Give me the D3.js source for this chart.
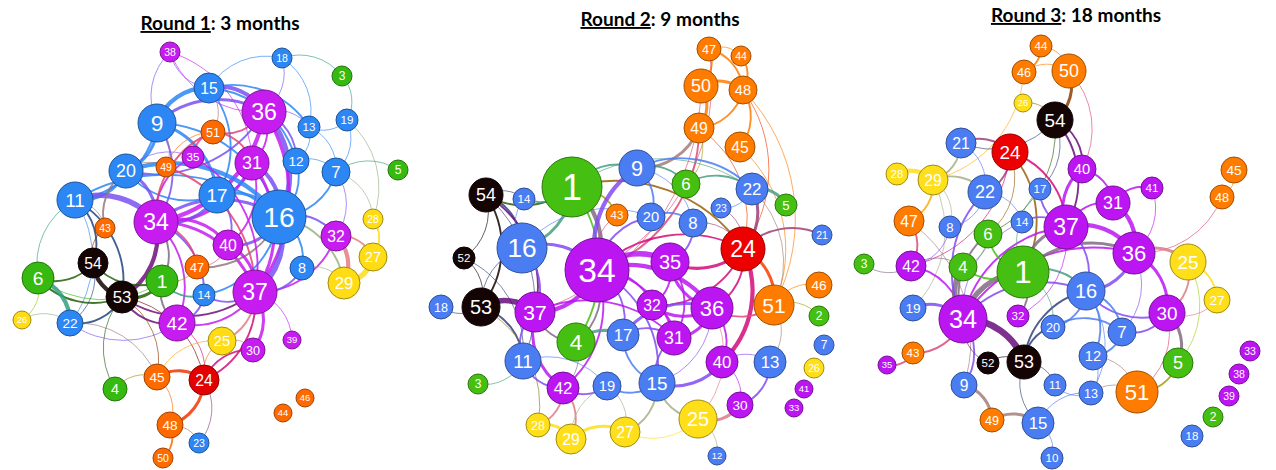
<!DOCTYPE html>
<html>
<head>
<meta charset="utf-8">
<script src="https://cdn.jsdelivr.net/npm/d3@7"></script>
<style>
  html, body { margin: 0; padding: 0; background: #fff; }
  svg { display: block; }
</style>
</head>
<body>
<svg id="chart" width="1276" height="470"></svg>
<script>
// ---- Collaboration networks at three survey rounds ----
// Node rows: [id, layoutX, layoutY, size, community]
// Edge rows: [source, target, weight]

const roundTitles = ["Round 1", "Round 2", "Round 3"];
const roundPeriods = [": 3 months", ": 9 months", ": 18 months"];

const nodesRound1 = [
  [38,170,52,10,"P"],[15,209,88,15,"B"],[9,157,123,19,"B"],[51,213,132,12,"O"],[35,193,157,11,"P"],
  [49,166,167,10,"O"],[20,126,171,17,"B"],[11,75,200,18,"B"],[43,105,228,10,"O"],[34,156,222,22,"P"],
  [18,282,58,10,"B"],[3,342,76,10,"G"],[36,264,112,22,"P"],[13,309,127,11,"B"],[19,347,120,11,"B"],
  [12,296,161,13,"B"],[31,252,163,17,"P"],[7,336,172,14,"B"],[5,398,170,10,"G"],[17,217,195,18,"B"],
  [16,279,217,27,"B"],[28,373,219,10,"Y"],[32,336,236,15,"P"],[40,228,245,15,"P"],[27,373,257,14,"Y"],
  [8,302,268,12,"B"],[29,344,283,16,"Y"],[37,255,292,22,"P"],[14,204,295,11,"B"],[25,222,341,14,"Y"],
  [30,253,350,12,"P"],[39,292,340,9,"P"],[24,204,380,15,"R"],[46,305,398,9,"O"],[44,283,413,9,"O"],
  [6,38,278,16,"G"],[54,93,263,15,"K"],[53,122,297,16,"K"],[1,162,281,16,"G"],[47,197,267,12,"O"],
  [42,177,323,18,"P"],[26,22,320,9,"Y"],[22,70,323,13,"B"],[45,157,377,13,"O"],[4,115,389,12,"G"],
  [48,170,425,13,"O"],[23,199,443,10,"B"],[50,163,458,10,"O"]
];

const edgesRound1 = [
  [9,15,4],[9,17,3],[9,16,2],[9,20,3],[9,34,2],[9,36,3],[9,11,2],[9,38,1],[15,36,4],[15,38,1],
  [15,18,1],[15,13,2],[15,51,1],[15,17,2],[15,12,2],[18,3,1],[18,36,1],[18,13,1],[3,19,1],[19,13,1],
  [19,7,1],[19,28,1],[36,38,1],[36,34,4],[36,16,5],[36,31,2],[36,12,2],[36,51,2],[36,37,3],[36,13,1],
  [36,20,2],[13,12,1],[13,7,1],[12,16,2],[12,7,1],[7,5,1],[7,28,1],[7,16,2],[7,32,1],[31,16,4],
  [31,17,2],[31,34,3],[31,40,2],[31,37,3],[17,34,3],[17,16,3],[17,40,2],[17,20,2],[20,16,4],[20,11,3],
  [20,34,3],[20,35,1],[20,49,1],[11,34,5],[11,16,2],[11,54,2],[11,43,1],[11,22,1],[11,53,2],[34,35,2],
  [34,51,2],[34,40,3],[34,16,3],[34,37,3],[34,53,4],[34,1,2],[34,42,2],[34,14,2],[34,47,2],[35,51,2],
  [49,51,1],[49,37,2],[16,37,5],[16,40,3],[16,8,2],[16,32,2],[16,47,2],[16,14,2],[16,29,2],[40,37,3],
  [40,47,1],[32,29,4],[32,37,2],[32,27,2],[28,27,2],[27,29,5],[8,37,2],[8,29,1],[37,42,2],[37,14,2],
  [37,30,3],[37,39,1],[37,24,2],[37,25,2],[37,53,2],[14,42,2],[14,1,2],[42,1,2],[42,22,1],[42,53,2],
  [42,24,1],[1,53,3],[1,54,2],[1,6,1],[53,54,4],[53,22,2],[53,6,2],[53,45,1],[53,24,1],[54,6,2],
  [54,22,1],[54,43,1],[6,22,4],[6,26,1],[26,22,1],[6,11,1],[22,45,1],[4,45,1],[4,53,1],[45,24,3],
  [45,48,1],[45,25,1],[24,48,3],[24,30,2],[24,25,1],[24,23,1],[48,50,2],[48,23,1],[25,30,1],[43,20,2],
  [9,49,1],[38,31,1],[51,31,2],[35,37,2],[47,1,1]
];

const nodesRound2 = [
  [47,289,49,12,"O"],[44,321,56,10,"O"],[50,281,86,17,"O"],[48,323,90,14,"O"],[49,279,128,15,"O"],
  [45,320,147,15,"O"],[9,217,168,18,"B"],[6,266,184,14,"G"],[22,332,189,16,"B"],[5,366,205,11,"G"],
  [23,301,208,10,"B"],[20,231,217,14,"B"],[8,273,223,14,"B"],[21,402,235,10,"B"],[54,66,195,17,"K"],
  [14,104,199,11,"B"],[1,152,187,30,"G"],[43,197,215,11,"O"],[16,102,248,25,"B"],[52,44,258,11,"K"],
  [34,177,270,32,"P"],[53,61,307,19,"K"],[18,21,307,12,"B"],[37,115,312,20,"P"],[4,156,342,19,"G"],
  [17,203,335,16,"B"],[11,103,361,18,"B"],[3,58,384,10,"G"],[42,143,388,16,"P"],[19,187,386,14,"B"],
  [28,118,425,12,"Y"],[29,151,439,15,"Y"],[27,205,432,15,"Y"],[24,323,249,22,"R"],[35,250,262,19,"P"],
  [46,399,285,13,"O"],[32,232,305,15,"P"],[51,354,305,20,"O"],[36,292,308,21,"P"],[2,399,316,10,"G"],
  [31,254,338,17,"P"],[7,404,345,10,"B"],[40,302,362,16,"P"],[13,350,362,16,"B"],[26,394,368,10,"Y"],
  [15,237,383,18,"B"],[41,384,389,9,"P"],[33,374,408,9,"P"],[30,320,405,13,"P"],[25,278,419,19,"Y"],
  [12,297,456,9,"B"]
];

const edgesRound2 = [
  [47,50,2],[47,48,2],[47,44,1],[44,48,2],[50,48,3],[50,49,3],[48,49,2],[48,45,2],[48,24,1],[48,51,1],
  [45,51,1],[49,9,3],[49,34,2],[49,24,1],[47,34,1],[50,37,1],[49,6,1],[1,16,3],[1,34,4],[1,54,2],
  [1,14,2],[1,9,2],[1,43,2],[1,4,2],[1,22,1],[1,24,2],[54,16,2],[54,14,1],[54,52,1],[54,53,2],
  [54,11,1],[54,37,2],[52,53,1],[52,11,1],[53,37,5],[53,18,1],[53,11,2],[53,28,1],[53,16,1],[16,34,3],
  [16,37,2],[16,14,1],[16,20,1],[34,35,5],[34,36,4],[34,37,4],[34,32,2],[34,31,2],[34,4,2],[34,17,2],
  [34,9,4],[34,20,2],[34,24,2],[34,15,2],[34,42,2],[34,43,1],[9,20,2],[9,6,2],[9,22,2],[9,8,1],
  [6,22,2],[22,5,3],[22,24,3],[22,23,1],[22,51,1],[24,21,2],[24,51,3],[24,40,4],[24,36,2],[24,35,3],
  [24,32,2],[51,46,1],[51,2,1],[51,13,1],[51,36,2],[36,32,3],[36,31,3],[36,40,2],[36,35,3],[36,15,1],
  [36,25,1],[40,30,1],[40,15,3],[40,13,1],[13,30,2],[30,25,3],[25,15,2],[25,12,1],[25,27,1],[15,17,2],
  [15,31,2],[15,19,2],[15,27,2],[19,42,2],[42,37,3],[42,11,2],[42,28,2],[42,29,2],[28,29,3],[29,27,3],
  [11,3,1],[11,37,2],[4,37,2],[4,17,3],[4,42,1],[17,36,3],[17,31,2],[20,8,2],[8,35,2],[35,31,2],
  [32,31,2],[19,27,1],[29,19,1],[11,19,1],[37,31,2],[35,32,2],[8,24,1],[23,24,1]
];

const nodesRound3 = [
  [44,201,46,11,"O"],[46,184,72,12,"O"],[50,229,71,17,"O"],[26,183,103,9,"Y"],[54,215,120,18,"K"],
  [21,121,143,15,"B"],[24,170,152,18,"R"],[28,57,174,11,"Y"],[29,93,180,15,"Y"],[22,145,192,17,"B"],
  [17,200,189,11,"B"],[47,69,221,15,"O"],[8,110,227,11,"B"],[14,182,222,11,"B"],[6,148,234,14,"G"],
  [40,242,169,14,"P"],[41,312,188,11,"P"],[45,394,170,13,"O"],[48,382,197,12,"O"],[31,273,203,17,"P"],
  [37,226,227,22,"P"],[3,24,264,10,"G"],[42,71,266,15,"P"],[4,123,267,14,"G"],[1,183,272,26,"G"],
  [19,73,308,13,"B"],[34,123,319,24,"P"],[32,178,316,11,"P"],[20,213,327,12,"B"],[43,73,353,11,"O"],
  [35,47,365,9,"P"],[52,148,363,11,"K"],[53,184,362,17,"K"],[9,124,385,13,"B"],[11,215,385,11,"B"],
  [49,152,420,12,"O"],[15,198,423,16,"B"],[10,212,458,11,"B"],[36,294,253,21,"P"],[25,348,262,18,"Y"],
  [27,377,300,13,"Y"],[16,246,291,19,"B"],[30,327,313,18,"P"],[7,282,332,14,"B"],[12,253,356,14,"B"],
  [5,338,363,15,"G"],[33,410,351,10,"P"],[38,399,374,10,"P"],[13,251,393,12,"B"],[51,297,392,21,"O"],
  [39,389,396,10,"P"],[2,373,417,10,"G"],[18,352,436,11,"B"]
];

const edgesRound3 = [
  [44,46,2],[44,50,1],[46,50,1],[50,54,3],[26,54,1],[46,29,1],[50,40,1],[54,21,1],[54,40,2],[54,37,2],
  [54,6,1],[54,17,1],[21,24,2],[21,29,2],[21,22,1],[24,22,2],[24,37,2],[24,1,2],[24,6,1],[24,42,1],
  [28,29,4],[29,47,2],[29,22,2],[29,8,1],[29,19,1],[47,42,2],[47,9,1],[42,3,1],[42,34,2],[42,4,1],
  [19,34,3],[34,1,5],[34,53,6],[34,4,5],[34,43,2],[43,35,2],[34,9,2],[34,22,2],[34,6,2],[34,14,1],
  [34,37,2],[34,36,2],[34,16,2],[9,49,3],[49,15,3],[15,53,1],[15,10,1],[15,13,1],[52,53,1],[52,34,1],
  [53,20,2],[53,16,2],[53,11,1],[1,37,3],[1,32,2],[1,6,2],[1,16,2],[1,36,3],[1,4,2],[1,17,1],
  [1,20,1],[37,36,4],[37,31,2],[37,40,3],[37,17,2],[37,16,2],[40,31,2],[31,41,2],[31,36,4],[41,36,1],
  [48,36,1],[45,48,1],[36,16,3],[36,30,3],[36,25,3],[36,7,1],[25,30,2],[25,27,2],[25,5,1],[27,30,1],
  [30,5,3],[30,7,2],[30,51,1],[30,16,2],[16,7,2],[16,12,2],[16,20,2],[16,13,1],[7,12,2],[12,51,1],
  [13,51,1],[5,51,2],[13,11,1],[14,37,2],[22,8,1],[22,14,1],[6,4,1],[8,42,1],[37,32,1],[20,7,2],
  [12,13,1]
];

// ---- Appearance ----
const paletteRound1 = { B: "#2c86f4", P: "#c61cf0", O: "#ff6a00", G: "#36ba12", Y: "#ffdc14", R: "#e20000", K: "#140404" };
const paletteLater  = { B: "#4b7df2", P: "#bb16f2", O: "#ff7c00", G: "#45bf12", Y: "#ffde1a", R: "#ec0000", K: "#140404" };

const panels = [
  { nodes: nodesRound1, edges: edgesRound1, palette: paletteRound1, left: 0,   titleX: 220,  titleY: 30 },
  { nodes: nodesRound2, edges: edgesRound2, palette: paletteLater,  left: 420, titleX: 660,  titleY: 26 },
  { nodes: nodesRound3, edges: edgesRound3, palette: paletteLater,  left: 840, titleX: 1076, titleY: 22 }
];

const svg = d3.select("#chart");
const widthScale = d3.scaleLinear().domain([1, 6]).range([0.75, 6.5]);
const yScale = d3.scaleLinear().domain([0, 470]).range([0, 470]);

panels.forEach((panel, i) => {
  const xScale = d3.scaleLinear().domain([0, 420]).range([panel.left, panel.left + 420]);
  const rScale = d3.scaleLinear().domain([0, 10]).range([0, 10]);

  const nodeById = new Map(panel.nodes.map(([id, x, y, size, grp]) => [id, {
    id, x: xScale(x), y: yScale(y), r: rScale(size), fill: panel.palette[grp]
  }]));

  const g = svg.append("g").attr("class", "round-" + (i + 1));

  // Curved links, coloured as a blend of the two endpoint communities
  g.append("g").attr("fill", "none")
    .selectAll("path")
    .data(panel.edges)
    .join("path")
    .attr("d", ([s, t]) => {
      const a = nodeById.get(s), b = nodeById.get(t);
      const d = Math.hypot(b.x - a.x, b.y - a.y);
      const R = d * 0.85;
      return `M${a.x},${a.y} A${R},${R} 0 0,1 ${b.x},${b.y}`;
    })
    .attr("stroke", ([s, t]) => d3.interpolateRgb(nodeById.get(s).fill, nodeById.get(t).fill)(0.5))
    .attr("stroke-width", d => widthScale(d[2]))
    .attr("stroke-opacity", 0.85);

  const nodeList = Array.from(nodeById.values());
  const node = g.append("g")
    .selectAll("g")
    .data(nodeList)
    .join("g")
    .attr("transform", d => `translate(${d.x},${d.y})`);

  node.append("circle")
    .attr("r", d => d.r)
    .attr("fill", d => d.fill)
    .attr("stroke", d => d3.color(d.fill).darker(1.3))
    .attr("stroke-width", 1);

  node.append("text")
    .attr("text-anchor", "middle")
    .attr("dy", "0.36em")
    .attr("fill", "#fff")
    .attr("font-family", "'Liberation Sans', Arial, sans-serif")
    .attr("font-size", d => (String(d.id).length === 1 ? 1.2 : 1.05) * d.r)
    .text(d => d.id);

  // Panel heading
  const title = svg.append("text")
    .attr("x", panel.titleX)
    .attr("y", panel.titleY)
    .attr("text-anchor", "middle")
    .attr("font-family", "Lato, 'Open Sans', sans-serif")
    .attr("font-weight", "bold")
    .attr("font-size", 19)
    .attr("fill", "#000");
  title.append("tspan").attr("text-decoration", "underline").text(roundTitles[i]);
  title.append("tspan").text(roundPeriods[i]);
});
</script>
</body>
</html>
